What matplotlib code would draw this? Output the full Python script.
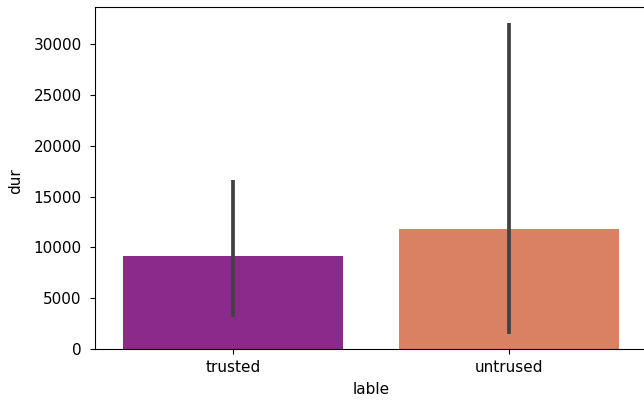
import matplotlib
matplotlib.use("Agg")
import matplotlib.pyplot as plt
import numpy as np

# Mean duration per label with its confidence interval bounds
categories = ["trusted", "untrused"]
mean_dur = [9150, 11780]
ci_low = [3120, 1440]
ci_high = [16620, 32100]
bar_colors = ["#8A2A8B", "#D98162"]

plt.rcParams["font.family"] = "DejaVu Sans"
plt.rcParams["font.size"] = 11

fig = plt.figure(figsize=(6.44, 4.01), dpi=100)
ax = fig.add_axes([0.148, 0.130, 0.856, 0.853])

x = np.arange(len(categories))
ax.bar(x, mean_dur, width=0.8, color=bar_colors)
for xi, lo, hi in zip(x, ci_low, ci_high):
    ax.plot([xi, xi], [lo, hi], color="#424242", lw=2.7, solid_capstyle="butt")

ax.set_xlim(-0.5, 1.5)
ax.set_ylim(0, 33700)
ax.set_yticks(np.arange(0, 30001, 5000))
ax.set_xticks(x)
ax.set_xticklabels(categories)
ax.tick_params(axis="y", pad=6.3)
ax.tick_params(axis="x", pad=4.8)
ax.set_xlabel("lable")
ax.set_ylabel("dur")
ax.xaxis.set_label_coords(0.5, -0.097)
ax.yaxis.set_label_coords(-0.131, 0.49)

fig.savefig("out.png", dpi=100)
